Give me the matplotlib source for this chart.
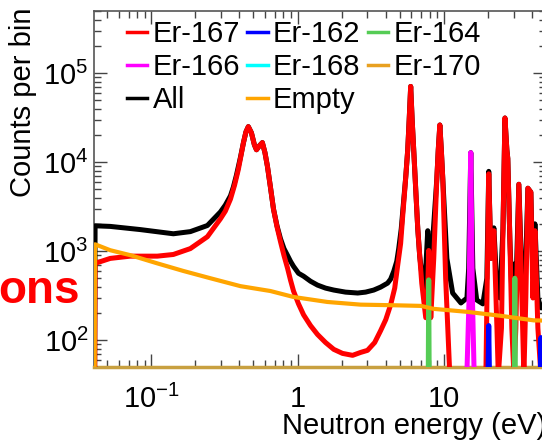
import matplotlib
matplotlib.use("Agg")
import matplotlib.pyplot as plt
from matplotlib.ticker import FixedLocator, LogLocator, NullFormatter, FixedFormatter

plt.rcParams['font.family'] = ['Liberation Sans', 'DejaVu Sans']
plt.rcParams['mathtext.fontset'] = 'custom'
plt.rcParams['mathtext.rm'] = 'Liberation Sans'
plt.rcParams['mathtext.it'] = 'Liberation Sans:italic'

# values (energy in eV, counts per bin)
all_e = [0.0407, 0.0413, 0.0524, 0.0841, 0.1416, 0.185, 0.242, 0.297, 0.321, 0.348, 0.364,
         0.382, 0.407, 0.427, 0.444, 0.461, 0.484, 0.507, 0.524, 0.549, 0.575, 0.599,
         0.623, 0.653, 0.685, 0.724, 0.765, 0.808, 0.855, 0.896, 0.939, 1.016, 1.10,
         1.227, 1.37, 1.555, 1.77, 2.13, 2.58, 2.92, 3.32, 3.70, 4.13, 4.33, 4.55, 4.77,
         4.92, 5.12, 5.33, 5.50, 5.67, 5.80, 5.94, 6.08, 6.23, 6.43, 6.64, 6.85, 7.07,
         7.41, 7.77, 8.02, 8.41, 8.96, 9.17, 9.40, 9.62, 9.85, 10.5, 11.5, 13.1, 14.4,
         14.8, 15.3, 15.8, 16.8, 18.5, 19.7, 20.3, 21.0, 22.0, 23.1, 24.2, 25.4, 26.2,
         27.0, 27.4, 28.3, 29.2, 30.2, 31.1, 32.6, 34.2, 35.9, 37.6, 39.4, 40.7, 42.0,
         44.0, 46.2, 50.7]
all_c = [1, 1930, 1900, 1750, 1570, 1660, 1945, 2760, 3300, 4190, 5240,
         7110, 11300, 16600, 21900, 25100, 21400, 15700, 13800, 15300, 16600, 12800,
         8960, 5240, 2980, 1930, 1380, 1070, 895, 769, 676, 565, 524,
         460, 416, 385, 366, 347, 339, 347, 366, 395, 438, 485, 595, 769,
         1070, 1790, 3850, 6930, 13800, 29800, 71100, 29800, 13800, 4970, 1790, 873, 565,
         385, 1700, 730, 1380, 6420, 13800, 26200, 13800, 6420, 830, 339, 262, 298,
         643, 12800, 643, 283, 256, 497, 7890, 830, 1830, 385, 298, 1790, 31400,
         13800, 11000, 1380, 339, 717, 339, 5650, 497, 385, 5100, 4600, 497, 2030,
         298, 231, 231]

er167_e = [0.0407, 0.0413, 0.0524, 0.0718, 0.110, 0.1416, 0.185, 0.242, 0.297, 0.321, 0.348,
           0.371, 0.394, 0.427, 0.444, 0.461, 0.484, 0.507, 0.524, 0.549, 0.575, 0.599,
           0.623, 0.653, 0.685, 0.724, 0.765, 0.808, 0.855, 0.896, 0.939, 1.016, 1.10,
           1.227, 1.37, 1.555, 1.77, 2.03, 2.38, 2.70, 3.01, 3.37, 3.70, 4.01, 4.33, 4.62,
           4.84, 5.07, 5.24, 5.45, 5.67, 5.80, 5.94, 6.08, 6.23, 6.43, 6.64, 6.85, 7.07,
           7.53, 7.77, 7.89, 8.15, 8.54, 8.96, 9.17, 9.40, 9.62, 9.85, 10.3, 11.0, 11.5,
           18.5, 19.4, 20.3, 21.0, 22.0, 23.1, 23.6, 24.8, 25.4, 26.2, 27.0, 27.4, 28.3,
           29.2, 30.2, 31.1, 32.6, 34.2, 35.3, 36.4, 37.6, 39.4, 40.7, 42.0, 44.0, 46.2,
           50.7]
er167_c = [1, 730, 830, 880, 880, 919, 1070, 1455, 2310, 2820, 3850,
           5510, 8300, 16600, 21900, 25100, 21400, 15700, 13800, 15300, 16600, 12800,
           8960, 5240, 2980, 1880, 1280, 895, 643, 472, 357, 256, 193,
           146, 116, 94.2, 78.9, 71.1, 67.6, 72.9, 76.9, 94.2, 128, 170, 249, 385,
           693, 1220, 2500, 5650, 13800, 29800, 71100, 29800, 13800, 4970, 1790, 873, 438,
           179, 385, 1020, 179, 830, 6420, 13800, 26200, 13800, 6420, 497, 40, 25,
           25, 40, 7400, 830, 1700, 137, 40, 137, 1790, 31400, 13800, 11000, 1380,
           137, 40, 137, 5650, 298, 40, 298, 5100, 4600, 298, 1700, 137, 40,
           40]

er164_e = [7.80, 7.89, 7.98, 30.2, 30.6, 31.0]
er164_c = [10, 476, 10, 10, 497, 10]

er166_e = [14.2, 14.9, 15.3, 15.7, 16.3]
er166_c = [20, 300, 12800, 300, 20]

er162_e = [19.8, 20.3, 20.8, 45.5, 46.2, 47.0]
er162_c = [10, 146, 10, 10, 107, 10]

empty_e = [0.0407, 0.0413, 0.0524, 0.0718, 0.110, 0.1656, 0.2535, 0.407, 0.653, 0.939, 1.60,
           2.70, 4.55, 6.96, 8.54, 14.6, 24.5, 41.3, 50.7]
empty_c = [1, 1196, 1026, 903, 730, 600, 497, 405, 357, 306, 269,
           251, 247, 243, 225, 208, 188, 167, 166]

fig = plt.figure(figsize=(5.42, 4.40), dpi=100)
ax = fig.add_axes([94 / 542, 73 / 440, 452 / 542, 356 / 440])

ax.plot(all_e, all_c, color='black', lw=3.6, zorder=3)
ax.plot(er167_e, er167_c, color='#ff0000', lw=3.6, zorder=4)
ax.plot(er164_e, er164_c, color='#55cc55', lw=3.6, zorder=5)
ax.plot(er166_e, er166_c, color='#ff00ff', lw=3.6, zorder=5)
ax.plot(er162_e, er162_c, color='#0000ff', lw=3.6, zorder=5)
ax.plot(empty_e, empty_c, color='#ffa500', lw=3.0, zorder=6)

ax.set_xscale('log')
ax.set_yscale('log')
ax.set_xlim(0.0406, 50)
ax.set_ylim(50, 5e5)

ax.xaxis.set_major_locator(FixedLocator([0.1, 1, 10]))
ax.xaxis.set_major_formatter(FixedFormatter(['$10^{-1}$', '1', '10']))
ax.xaxis.set_minor_locator(LogLocator(base=10, subs=range(2, 10), numticks=20))
ax.xaxis.set_minor_formatter(NullFormatter())
ax.yaxis.set_major_locator(FixedLocator([1e2, 1e3, 1e4, 1e5]))
ax.yaxis.set_major_formatter(FixedFormatter(['$10^{2}$', '$10^{3}$', '$10^{4}$', '$10^{5}$']))
ax.yaxis.set_minor_locator(LogLocator(base=10, subs=range(2, 10), numticks=20))
ax.yaxis.set_minor_formatter(NullFormatter())

ax.tick_params(which='both', direction='in', top=True, right=True, color='#444444', width=1.0,
               labelsize=21)
ax.tick_params(which='major', length=9.5)
ax.tick_params(which='minor', length=5)
ax.tick_params(axis='x', which='major', pad=13)
ax.tick_params(axis='y', which='major', pad=4)

for side in ['left', 'top', 'right']:
    ax.spines[side].set_color('#555555')
    ax.spines[side].set_linewidth(1.2)
ax.spines['bottom'].set_color('#c8a040')
ax.spines['bottom'].set_linewidth(2.5)

ax.set_xlabel('Neutron energy (eV)', fontsize=21, loc='right')
ax.xaxis.set_label_coords(1.0, -0.126)
ax.set_ylabel('Counts per bin', fontsize=21, loc='top')
ax.yaxis.set_label_coords(-0.125, 1.01)

handles = [
    plt.Line2D([], [], color='#ff0000', lw=2.5),
    plt.Line2D([], [], color='#ff00ff', lw=2.5),
    plt.Line2D([], [], color='black', lw=2.5),
    plt.Line2D([], [], color='#0000ff', lw=2.5),
    plt.Line2D([], [], color='#00ffff', lw=2.5),
    plt.Line2D([], [], color='#ffa500', lw=2.5),
    plt.Line2D([], [], color='#55cc55', lw=2.5),
    plt.Line2D([], [], color='#e8a020', lw=2.5),
]
labels = ['Er-167', 'Er-166', 'All', 'Er-162', 'Er-168', 'Empty', 'Er-164', 'Er-170']
ax.legend(handles, labels, ncol=3, loc='upper left', bbox_to_anchor=(0.073, 0.975),
          frameon=False, fontsize=21, handlelength=0.7, handletextpad=0.18,
          columnspacing=0.25, labelspacing=0.17, borderpad=0, borderaxespad=0)

fig.text(80 / 542, 0.311, 'ons', color='#ff0000', fontsize=33, fontweight='bold',
         ha='right', va='baseline')

fig.savefig('out.png', dpi=100)
